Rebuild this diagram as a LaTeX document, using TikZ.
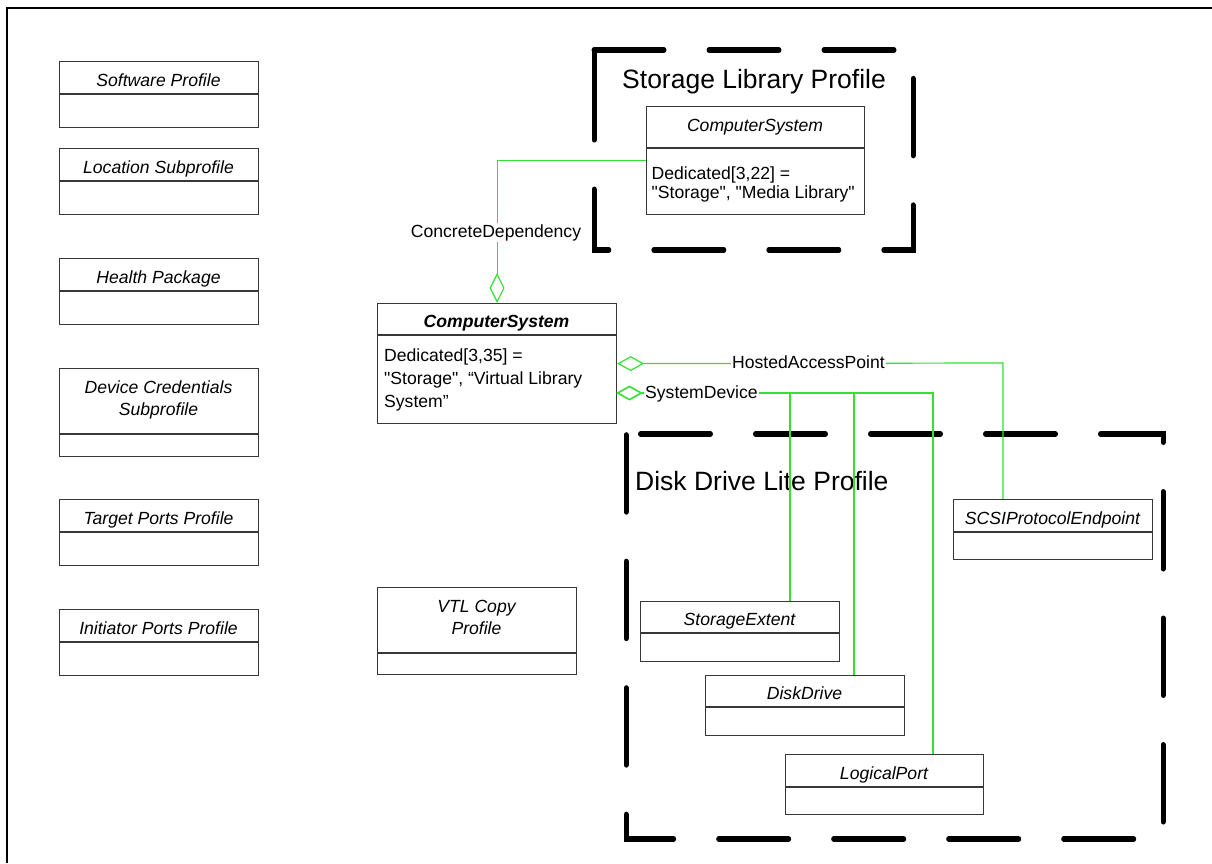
\documentclass[tikz,border=0pt]{standalone}
\usepackage{fontspec}
\setmainfont{Liberation Sans}[Ligatures=TeXOff]
\usetikzlibrary{arrows.meta}
\definecolor{assocgreen}{RGB}{50,225,50}
\definecolor{boxgray}{RGB}{55,55,55}
\begin{document}
\begin{tikzpicture}[x=1pt,y=-1pt,
  cls/.style={draw=boxgray, line width=1.2pt, inner sep=0pt, anchor=north west, fill=white},
  divline/.style={draw=boxgray, line width=1.2pt},
  ttl/.style={font=\fontsize{17.6}{22}\selectfont\itshape, anchor=base, inner sep=0pt, align=center},
  ttlm/.style={font=\fontsize{17.6}{22}\selectfont\itshape, anchor=center, inner sep=0pt, align=center},
  bodytxt/.style={font=\fontsize{17.6}{#1}\selectfont, anchor=north west, inner sep=0pt, align=left},
  proftitle/.style={font=\fontsize{26.5}{30}\selectfont, anchor=base west, inner sep=0pt},
  profbox/.style={line width=5pt, line cap=round, line join=miter},
  assoc/.style={draw=assocgreen, line width=1.2pt},
  lbl/.style={font=\fontsize{17.6}{20}\selectfont, fill=white, inner sep=1.5pt, anchor=base},
  frame/.style={line width=2.3pt}
]
\useasboundingbox (0,0) rectangle (1212,863);
\draw[frame] (7,863) -- (7,8) -- (1212,8);

% ---- profile boxes (dashed) ----
\begin{scope}[transform canvas={yscale=1.1}]
  \draw[profbox, dash pattern=on 70pt off 45pt on 70pt off 45pt on 70pt off 45pt on 70pt off 45pt on 70pt off 45pt on 70pt off 45pt on 70pt off 45pt on 70pt off 45pt on 85pt off 45pt]
    (594,45.4545) -- (913,45.4545) -- (913,227.2727) -- (594,227.2727) -- cycle;
  \draw[profbox, dash pattern=on 70pt off 45pt, dash phase=100.5pt]
    (626,394.5455) -- (1163,394.5455) -- (1163,762.7273) -- (626,762.7273) -- cycle;
\end{scope}
\node[proftitle] (slp) at (622,88) {Storage Library Profile};
\node[proftitle] (ddlp) at (635,490) {Disk Drive Lite Profile};

% ---- left column ----
\node[cls, minimum width=199pt, minimum height=66pt] (sw) at (59,61) {};
\draw[divline] (sw.north west) ++(0,33) -- ++(199,0);
\node[ttl] (swt) at (158.5,86) {Software Profile};

\node[cls, minimum width=199pt, minimum height=66pt] (loc) at (59,148) {};
\draw[divline] (loc.north west) ++(0,33) -- ++(199,0);
\node[ttl] (loct) at (158.5,173) {Location Subprofile};

\node[cls, minimum width=199pt, minimum height=66pt] (hp) at (59,258) {};
\draw[divline] (hp.north west) ++(0,33) -- ++(199,0);
\node[ttl] (hpt) at (158.5,283) {Health Package};

\node[cls, minimum width=199pt, minimum height=88pt] (dc) at (59,368) {};
\draw[divline] (dc.north west) ++(0,66) -- ++(199,0);
\node[ttlm] (dct) at (158.5,399.6) {Device Credentials\\Subprofile};

\node[cls, minimum width=199pt, minimum height=66pt] (tp) at (59,499) {};
\draw[divline] (tp.north west) ++(0,33) -- ++(199,0);
\node[ttl] (tpt) at (158.5,524) {Target Ports Profile};

\node[cls, minimum width=199pt, minimum height=66pt] (ip) at (59,609) {};
\draw[divline] (ip.north west) ++(0,33) -- ++(199,0);
\node[ttl] (ipt) at (158.5,634) {Initiator Ports Profile};

% ---- VTL copy ----
\node[cls, minimum width=199pt, minimum height=87pt] (vtl) at (377,587) {};
\draw[divline] (vtl.north west) ++(0,66) -- ++(199,0);
\node[ttlm] (vtlt) at (476.5,617.8) {VTL Copy\\Profile};

% ---- Storage library ComputerSystem ----
\node[cls, minimum width=218pt, minimum height=108pt] (topCS) at (646,106) {};
\draw[divline] (topCS.north west) ++(0,42) -- ++(218,0);
\node[ttl] (topCSt) at (755,131) {ComputerSystem};
\node[bodytxt=19pt] (topCSb) at (651.5,166.5) {Dedicated[3,22] =\\"Storage", "Media Library"};

% ---- main ComputerSystem ----
\node[cls, minimum width=239pt, minimum height=120pt] (mainCS) at (377,303) {};
\draw[divline] (mainCS.north west) ++(0,32) -- ++(239,0);
\node[ttl, font=\fontsize{17.6}{22}\selectfont\bfseries\itshape] (mainCSt) at (496.5,327) {ComputerSystem};
\node[bodytxt=23pt] (mainCSb) at (384,348.5) {Dedicated[3,35] =\\"Storage", “Virtual Library\\System”};

% ---- disk drive lite classes ----
\node[cls, minimum width=199pt, minimum height=60pt] (scsi) at (953,499) {};
\draw[divline] (scsi.north west) ++(0,33) -- ++(199,0);
\node[ttl] (scsit) at (1052.5,524) {SCSIProtocolEndpoint};

\node[cls, minimum width=199pt, minimum height=60pt] (se) at (640,601) {};
\draw[divline] (se.north west) ++(0,32) -- ++(199,0);
\node[ttl] (set) at (739.5,625) {StorageExtent};

\node[cls, minimum width=199pt, minimum height=60pt] (dd) at (705,675) {};
\draw[divline] (dd.north west) ++(0,32) -- ++(199,0);
\node[ttl] (ddt) at (804.5,699) {DiskDrive};

\node[cls, minimum width=198pt, minimum height=60pt] (lp) at (785,754) {};
\draw[divline] (lp.north west) ++(0,33) -- ++(198,0);
\node[ttl] (lpt) at (884,779) {LogicalPort};

% ---- connectors ----
\draw[assoc, -{Diamond[open, length=30pt, width=15pt]}] (topCS.west) -| (mainCS.north);
\node[lbl] (cdl) at (496,237) {ConcreteDependency};

\coordinate (hapC) at (1003,363);
\draw[assoc, {Diamond[open, length=27pt, width=15pt]}-] (mainCS.east) -- (hapC) -- (hapC |- scsi.north);
\node[lbl] (hapl) at (808.5,368) {HostedAccessPoint};

\coordinate (sdS) at (616,393);
\coordinate (sdA) at (790,393);
\coordinate (sdB) at (854,393);
\coordinate (sdE) at (933,393);
\draw[assoc, {Diamond[open, length=27pt, width=15pt, line width=1.6pt]}-] (sdS) -- (sdE) -- (sdE |- lp.north);
\draw[assoc] (sdA) -- (sdA |- se.north);
\draw[assoc] (sdB) -- (sdB |- dd.north);
\node[lbl, anchor=base west] (sdl) at (643.5,398) {SystemDevice};
\end{tikzpicture}
\end{document}
